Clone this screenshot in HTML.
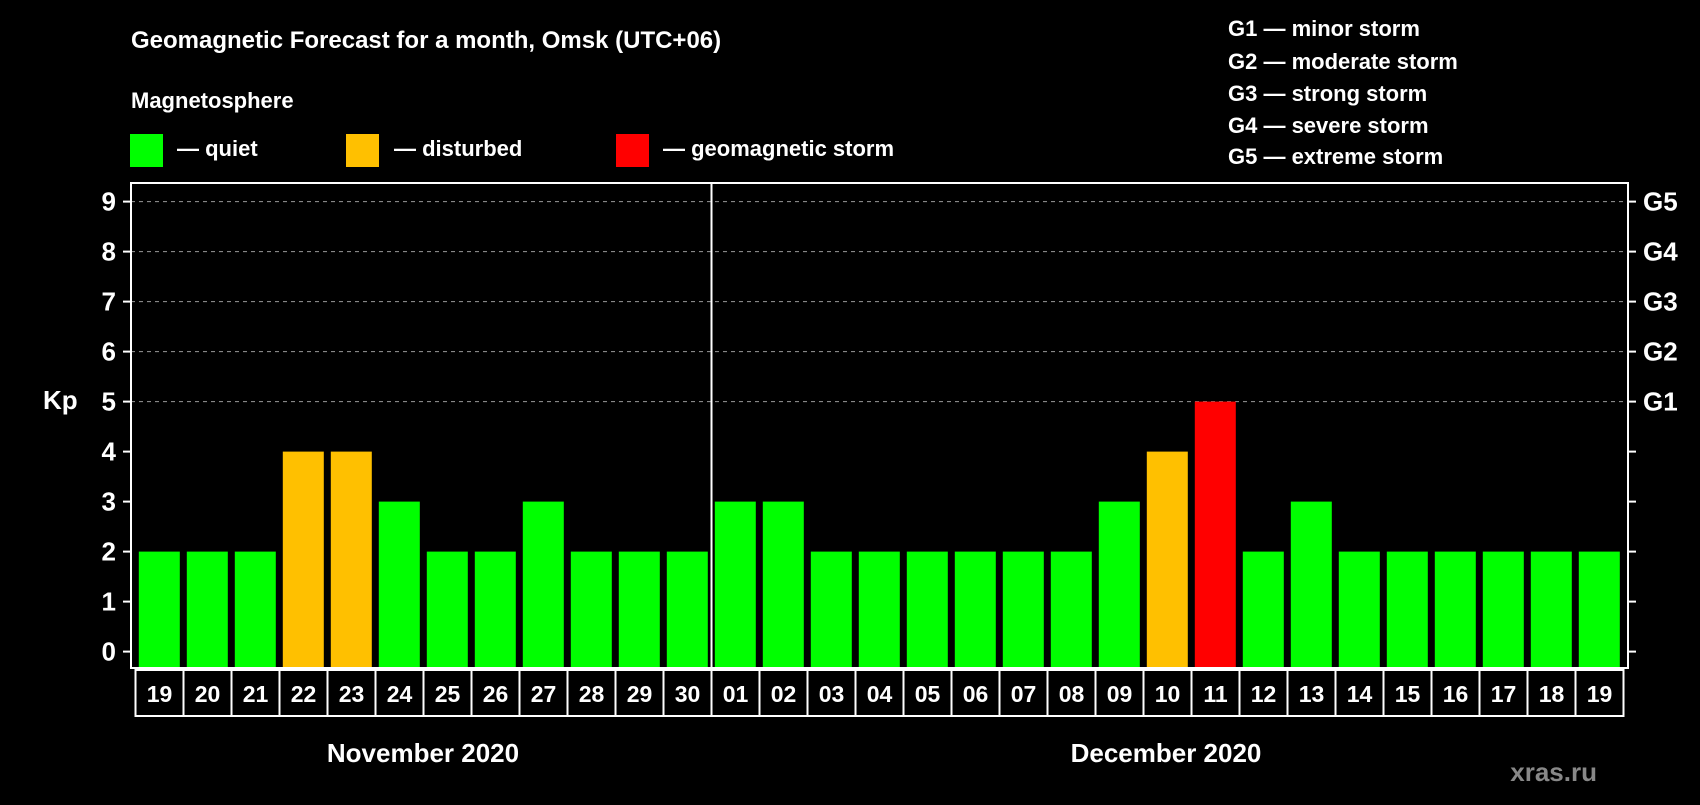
<!DOCTYPE html>
<html><head><meta charset="utf-8"><style>
body{margin:0;background:#000;width:1700px;height:800px;overflow:hidden}
svg text{font-family:"Liberation Sans",Arial,sans-serif;font-weight:bold;fill:#fff}
</style></head><body>
<svg id="c" width="1700" height="800" xmlns="http://www.w3.org/2000/svg">
<text x="131" y="48" font-size="24">Geomagnetic Forecast for a month, Omsk (UTC+06)</text>
<text x="131" y="108" font-size="22">Magnetosphere</text>
<g><rect x="130" y="134" width="33" height="33" fill="#00ff00"/><text x="177" y="156" font-size="22">— quiet</text></g>
<g><rect x="346" y="134" width="33" height="33" fill="#ffc000"/><text x="394" y="156" font-size="22">— disturbed</text></g>
<g><rect x="616" y="134" width="33" height="33" fill="#ff0000"/><text x="663" y="156" font-size="22">— geomagnetic storm</text></g>
<g font-size="22">
<text x="1228" y="36">G1 — minor storm</text>
<text x="1228" y="69">G2 — moderate storm</text>
<text x="1228" y="101">G3 — strong storm</text>
<text x="1228" y="133">G4 — severe storm</text>
<text x="1228" y="164">G5 — extreme storm</text>
</g>
<text x="43" y="409" font-size="26">Kp</text>
<text x="1597" y="781" font-size="26" style="fill:#888" text-anchor="end">xras.ru</text>
<text x="423" y="762" font-size="26" text-anchor="middle">November 2020</text>
<text x="1166" y="762" font-size="26" text-anchor="middle">December 2020</text>
<g id="plot"></g>
</svg>
<script>
const days=["19","20","21","22","23","24","25","26","27","28","29","30","01","02","03","04","05","06","07","08","09","10","11","12","13","14","15","16","17","18","19"];
const kp=[2,2,2,4,4,3,2,2,3,2,2,2,3,3,2,2,2,2,2,2,3,4,5,2,3,2,2,2,2,2,2];
const yTicks=[0,1,2,3,4,5,6,7,8,9];
const gLabels=["G1","G2","G3","G4","G5"];
const NS="http://www.w3.org/2000/svg";
const g=document.getElementById('plot');
const L=131,R=1628,T=183,B=668,x0=134.5,slot=48;
const y=v=>651.6-v*50;
const xs=i=>x0+i*slot;
function mk(t,a){const e=document.createElementNS(NS,t);for(const k in a)e.setAttribute(k,a[k]);g.appendChild(e);return e;}
yTicks.forEach(v=>{
  if(v>=5){const l=mk('line',{x1:L,x2:R,y1:y(v),y2:y(v),stroke:'#999','stroke-dasharray':'4,4','stroke-width':1});
  
  }
  const t1=mk('line',{x1:L-8,x2:L,y1:y(v),y2:y(v),stroke:'#fff','stroke-width':2});
  
  
  const t2=mk('line',{x1:R,x2:R+8,y1:y(v),y2:y(v),stroke:'#fff','stroke-width':2});
  
  
  const tx=mk('text',{x:116,y:y(v)+9,'font-size':26,'text-anchor':'end'});tx.textContent=v;
  
  
});
gLabels.forEach((s,i)=>{
  const tx=mk('text',{x:1643,y:y(5+i)+9,'font-size':26});tx.textContent=s;
  
  
});
kp.forEach((v,i)=>{
  const c=v>=5?'#ff0000':v>=4?'#ffc000':'#00ff00';
  const r=mk('rect',{x:xs(i)+4.3,y:y(v),width:41,height:B-y(v),fill:c});
  
  
  const b=mk('rect',{x:xs(i)+1,y:670,width:slot,height:46,fill:'none',stroke:'#fff','stroke-width':2});
  
  
  const t=mk('text',{x:xs(i)+slot/2+1,y:702,'font-size':23,'text-anchor':'middle'});t.textContent=days[i];
  
  
});
const f=mk('rect',{x:L,y:T,width:R-L,height:B-T,fill:'none',stroke:'#fff','stroke-width':2});


const d=mk('line',{x1:xs(12)+1,x2:xs(12)+1,y1:T,y2:B,stroke:'#fff','stroke-width':2});


</script>
</body></html>
